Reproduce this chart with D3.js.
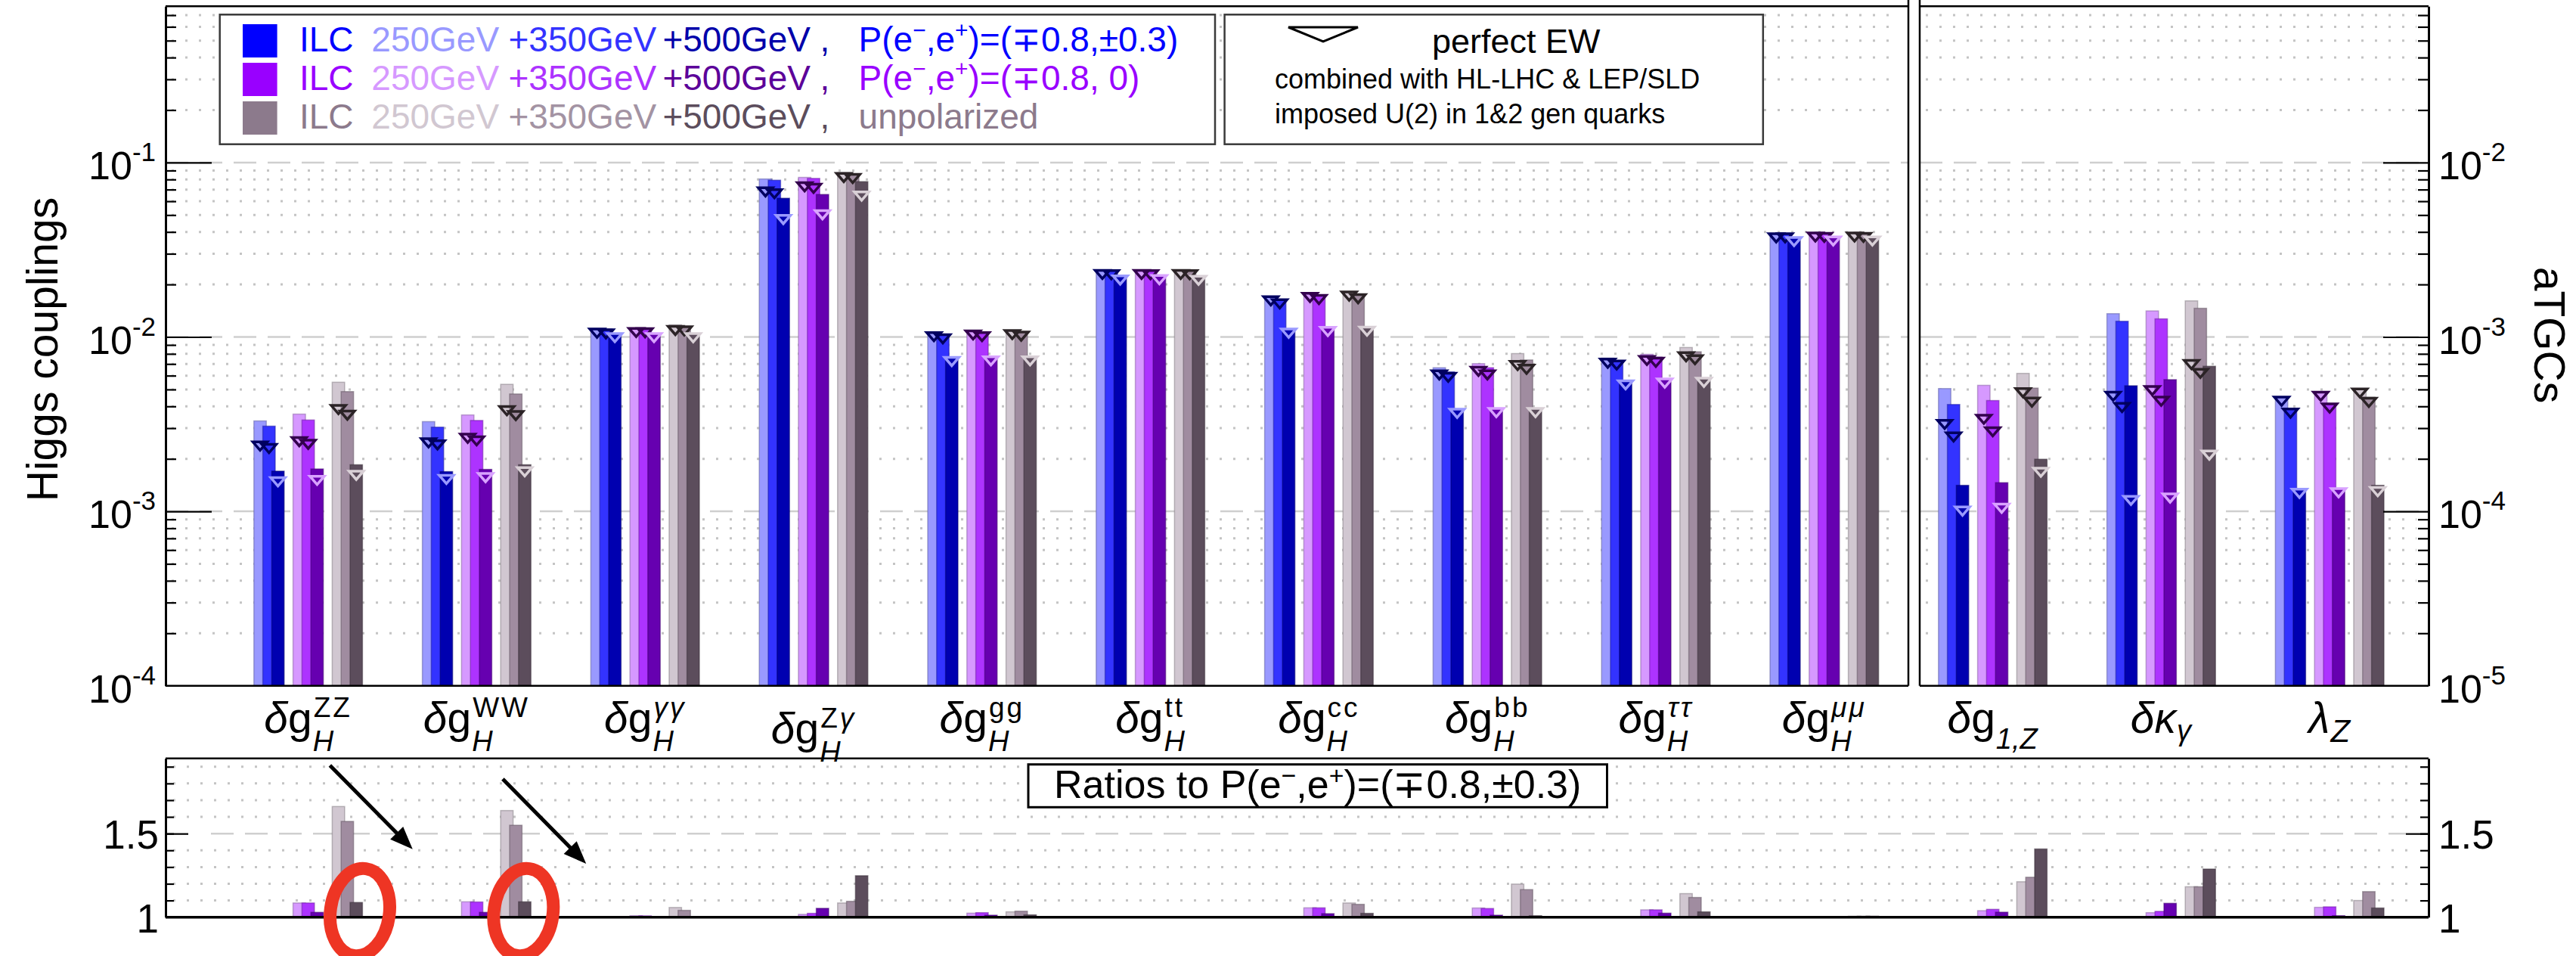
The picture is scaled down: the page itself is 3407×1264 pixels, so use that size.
<!DOCTYPE html>
<html><head><meta charset="utf-8">
<script src="https://cdn.jsdelivr.net/npm/d3@7"></script>
<style>
body{margin:0;background:#fff}
svg{display:block}
text{font-family:"Liberation Sans",Arial,Helvetica,sans-serif}
</style>
</head><body>
<svg id="chart" width="3407" height="1264"></svg>
<script>
// ---------------- DATA ----------------
const categories = ["ZZ","WW","γγ","Zγ","gg","tt","cc","bb","ττ","μμ","g1Z","κγ","λZ"];
const nHiggs = 10; // first 10 on left axis (Higgs couplings), rest on right axis (aTGCs)
const polarizations = ["pol1","pol2","unpol"];
const energies = ["250GeV","+350GeV","+500GeV"];

// bar values (Higgs: left axis, aTGC: right axis)
const pol1_250 = [3.30e-3,3.27e-3,1.116e-2,8.05e-2,1.06e-2,2.41e-2,1.70e-2,6.66e-3,7.56e-3,3.91e-2,5.06e-4,1.36e-3,4.52e-4];
const pol1_350 = [3.08e-3,3.04e-3,1.110e-2,7.92e-2,1.03e-2,2.40e-2,1.64e-2,6.30e-3,7.31e-3,3.91e-2,4.10e-4,1.23e-3,3.86e-4];
const pol1_500 = [1.70e-3,1.69e-3,1.038e-2,6.24e-2,7.64e-3,2.24e-2,1.11e-2,3.85e-3,5.61e-3,3.72e-2,1.41e-4,5.25e-4,1.34e-4];
const pol2_250 = [3.61e-3,3.57e-3,1.120e-2,8.22e-2,1.084e-2,2.41e-2,1.79e-2,7.03e-3,7.95e-3,3.95e-2,5.28e-4,1.41e-3,4.83e-4];
const pol2_350 = [3.34e-3,3.32e-3,1.116e-2,8.11e-2,1.06e-2,2.40e-2,1.73e-2,6.66e-3,7.66e-3,3.93e-2,4.32e-4,1.27e-3,4.13e-4];
const pol2_500 = [1.75e-3,1.74e-3,1.038e-2,6.56e-2,7.70e-3,2.25e-2,1.135e-2,3.89e-3,5.74e-3,3.75e-2,1.46e-4,5.69e-4,1.35e-4];
const unpol_250 = [5.50e-3,5.35e-3,1.173e-2,8.75e-2,1.09e-2,2.41e-2,1.82e-2,8.03e-3,8.70e-3,3.95e-2,6.18e-4,1.61e-3,5.04e-4];
const unpol_350 = [4.86e-3,4.71e-3,1.143e-2,8.61e-2,1.067e-2,2.40e-2,1.76e-2,7.38e-3,8.22e-3,3.93e-2,5.09e-4,1.46e-3,4.51e-4];
const unpol_500 = [1.85e-3,1.85e-3,1.045e-2,7.77e-2,7.70e-3,2.23e-2,1.14e-2,3.89e-3,5.80e-3,3.75e-2,1.99e-4,6.79e-4,1.41e-4];

// perfect EW (triangle markers)
const pol1_250_ew = [2.50e-3,2.61e-3,1.110e-2,7.17e-2,1.06e-2,2.41e-2,1.70e-2,6.40e-3,7.46e-3,3.91e-2,3.33e-4,4.83e-4,4.52e-4];
const pol1_350_ew = [2.42e-3,2.54e-3,1.100e-2,7.00e-2,1.03e-2,2.40e-2,1.635e-2,6.20e-3,7.29e-3,3.91e-2,2.82e-4,4.16e-4,3.86e-4];
const pol1_500_ew = [1.56e-3,1.61e-3,1.047e-2,4.98e-2,7.64e-3,2.24e-2,1.11e-2,3.85e-3,5.61e-3,3.72e-2,1.06e-4,1.22e-4,1.34e-4];
const pol2_250_ew = [2.65e-3,2.77e-3,1.120e-2,7.66e-2,1.084e-2,2.41e-2,1.78e-2,6.71e-3,7.74e-3,3.95e-2,3.56e-4,5.20e-4,4.83e-4];
const pol2_350_ew = [2.56e-3,2.68e-3,1.116e-2,7.51e-2,1.06e-2,2.40e-2,1.73e-2,6.40e-3,7.56e-3,3.93e-2,3.02e-4,4.52e-4,4.13e-4];
const pol2_500_ew = [1.59e-3,1.65e-3,1.047e-2,5.30e-2,7.70e-3,2.25e-2,1.135e-2,3.89e-3,5.74e-3,3.75e-2,1.10e-4,1.26e-4,1.35e-4];
const unpol_250_ew = [4.05e-3,3.99e-3,1.150e-2,8.67e-2,1.09e-2,2.41e-2,1.81e-2,7.24e-3,8.13e-3,3.95e-2,5.06e-4,7.33e-4,5.04e-4];
const unpol_350_ew = [3.76e-3,3.74e-3,1.143e-2,8.55e-2,1.067e-2,2.40e-2,1.75e-2,6.89e-3,7.82e-3,3.93e-2,4.46e-4,6.53e-4,4.45e-4];
const unpol_500_ew = [1.70e-3,1.78e-3,1.045e-2,6.78e-2,7.70e-3,2.23e-2,1.14e-2,3.89e-3,5.80e-3,3.75e-2,1.77e-4,2.22e-4,1.37e-4];

// ratios to P(e-,e+)=(-+0.8,+-0.3)
const ratio_pol2_250 = [1.085,1.092,1.009,1.017,1.024,1.002,1.056,1.055,1.044,1.003,1.039,1.027,1.059];
const ratio_pol2_350 = [1.085,1.091,1.008,1.023,1.027,1.002,1.056,1.052,1.044,1.003,1.047,1.035,1.062];
const ratio_pol2_500 = [1.029,1.029,1.003,1.053,1.012,1.002,1.021,1.012,1.024,1.003,1.030,1.083,1.009];
const ratio_unpol_250 = [1.662,1.638,1.058,1.085,1.032,1.002,1.085,1.198,1.141,1.006,1.212,1.182,1.100];
const ratio_unpol_350 = [1.573,1.550,1.041,1.095,1.036,1.002,1.077,1.165,1.118,1.006,1.239,1.182,1.153];
const ratio_unpol_500 = [1.088,1.092,1.003,1.248,1.014,1.002,1.023,1.009,1.032,1.006,1.408,1.288,1.055];

// tick labels
const leftTickValues = [1e-1,1e-2,1e-3,1e-4];
const leftTickExp = ["-1","-2","-3","-4"];
const rightTickValues = [1e-2,1e-3,1e-4,1e-5];
const rightTickExp = ["-2","-3","-4","-5"];
const ratioTickValues = [1,1.5];
const ratioTickLabels = ["1","1.5"];

// x labels
const labelMain = ["δg","δg","δg","δg","δg","δg","δg","δg","δg","δg","δg","δκ","λ"];
const labelSup  = ["ZZ","WW","γγ","Zγ","gg","tt","cc","bb","ττ","μμ","","",""];
const labelSub  = ["H","H","H","H","H","H","H","H","H","H","1,Z","γ","Z"];

// legend
const legendRows = [
  ["ILC","250GeV","+350GeV","+500GeV",",","P(e|−|,e|+|)=(∓0.8,±0.3)"],
  ["ILC","250GeV","+350GeV","+500GeV",",","P(e|−|,e|+|)=(∓0.8, 0)"],
  ["ILC","250GeV","+350GeV","+500GeV",",","unpolarized"]
];
const legendEW = ["perfect EW","combined with HL-LHC & LEP/SLD","imposed U(2) in 1&2 gen quarks"];

// ---------------- STYLE ----------------
const barColors = {
  pol1:["#9999ff","#3333ff","#0000b0"],
  pol2:["#d699ff","#ad33ff","#6600b0"],
  unpol:["#d1c7d1","#a08ca0","#5c4d5c"]
};
const triColors = {
  pol1:["#000060","#000060","#9a9aff"],
  pol2:["#33004d","#33004d","#d9a3ff"],
  unpol:["#2b2326","#2b2326","#d9d0d6"]
};
const swatchColors = {pol1:"#0000ff",pol2:"#9900ff",unpol:"#8c7a8c"};
const legendTextColors = [
  ["#0000ff","#9999ff","#3333ff","#0000aa","#0000aa","#0000ff"],
  ["#9900ff","#d699ff","#ad33ff","#5c0099","#5c0099","#9900ff"],
  ["#8c7a8c","#d1c7d1","#a393a3","#5c4d5c","#5c4d5c","#8c7a8c"]
];

const series = {
  pol1:{bars:[pol1_250,pol1_350,pol1_500], ew:[pol1_250_ew,pol1_350_ew,pol1_500_ew]},
  pol2:{bars:[pol2_250,pol2_350,pol2_500], ew:[pol2_250_ew,pol2_350_ew,pol2_500_ew], ratio:[ratio_pol2_250,ratio_pol2_350,ratio_pol2_500]},
  unpol:{bars:[unpol_250,unpol_350,unpol_500], ew:[unpol_250_ew,unpol_350_ew,unpol_500_ew], ratio:[ratio_unpol_250,ratio_unpol_350,ratio_unpol_500]}
};

// ---------------- LAYOUT ----------------
const X0=219, XDIV1=2524, XDIV2=2539, X1=3212;
const YT=8.3, YB=906.7, RT=1002.7, RB=1212.7;

const svg = d3.select("#chart");

const x = d3.scaleBand().domain(categories).range([296.2, 3192.6]);
const xc = d3.scaleBand().domain(polarizations).range([-77.7,77.7]).paddingInner(0.228).paddingOuter(0.114);
const xe = d3.scalePoint().domain(energies).range([0,23.6]);
const barW = 16.4;
const yL = d3.scaleLog().domain([1e-4, Math.pow(10,-0.104)]).range([YB,YT]);
const yR = d3.scaleLog().domain([1e-5, Math.pow(10,-1.104)]).range([YB,YT]);
const yQ = d3.scaleLinear().domain([1,1.95]).range([RB,RT]);
const xg = d3.scaleLinear().domain([0,categories.length-1])
  .range([x(categories[0])+x.bandwidth()/2, x(categories[categories.length-1])+x.bandwidth()/2]);

function barX(ci,p,ei){ return x(categories[ci]) + x.bandwidth()/2 + xc(p) + xe(energies[ei]); }
function yUp(ci,v){ return ci < nHiggs ? yL(v) : yR(v); }

// ---------------- GRID ----------------
const grid = svg.append("g");
function minorVals(lo,hi){ const out=[]; for(let d=lo; d<hi; d++){ for(let m=2;m<=9;m++){ out.push(m*Math.pow(10,d)); } } return out; }
const leftMinor = minorVals(-4,0).filter(v=>v<yL.domain()[1]);
const panels = [[X0,XDIV1],[XDIV2,X1]];
panels.forEach(([a,b])=>{
  grid.selectAll(null).data(leftTickValues.slice(0,3)).enter().append("line")
    .attr("x1",a).attr("x2",b).attr("y1",d=>yL(d)).attr("y2",d=>yL(d))
    .attr("stroke","#cfcfcf").attr("stroke-width",2.5).attr("stroke-dasharray","30,15");
  grid.selectAll(null).data(leftMinor).enter().append("line")
    .attr("x1",a+8).attr("x2",b-16).attr("y1",d=>yL(d)).attr("y2",d=>yL(d))
    .attr("stroke","#c4c4c4").attr("stroke-width",3).attr("stroke-dasharray","3,15");
});
const ratioMinor = d3.range(1.1,1.95,0.1).filter(v=>Math.abs(v-1.5)>1e-6);
grid.append("line").attr("x1",X0+60).attr("x2",X1-30).attr("y1",yQ(1.5)).attr("y2",yQ(1.5))
  .attr("stroke","#cfcfcf").attr("stroke-width",2.5).attr("stroke-dasharray","30,15");
grid.selectAll(null).data(ratioMinor).enter().append("line")
  .attr("x1",X0+10).attr("x2",X1-16).attr("y1",d=>yQ(d)).attr("y2",d=>yQ(d))
  .attr("stroke","#c4c4c4").attr("stroke-width",3).attr("stroke-dasharray","3,15");

// ---------------- BARS ----------------
const barTable = [];
const triTable = [];
const ratioTable = [];
categories.forEach((c,ci)=>{
  polarizations.forEach(p=>{
    energies.forEach((e,ei)=>{
      barTable.push({ci,p,ei,v:series[p].bars[ei][ci]});
      triTable.push({ci,p,ei,v:series[p].ew[ei][ci]});
      if(series[p].ratio) ratioTable.push({ci,p,ei,v:series[p].ratio[ei][ci]});
    });
  });
});
const gBars = svg.append("g");
gBars.selectAll("rect").data(barTable).enter().append("rect")
  .attr("x",d=>barX(d.ci,d.p,d.ei))
  .attr("width",barW)
  .attr("y",d=>yUp(d.ci,d.v))
  .attr("height",d=>YB-yUp(d.ci,d.v))
  .attr("fill",d=>barColors[d.p][d.ei])
  .attr("stroke",d=>d3.color(barColors[d.p][d.ei]).darker(1.2))
  .attr("stroke-opacity",0.55).attr("stroke-width",1.5);

const triW=19, triH=11;
svg.append("g").selectAll("path").data(triTable).enter().append("path")
  .attr("d",d=>{ const cx=barX(d.ci,d.p,d.ei)+barW/2, y=yUp(d.ci,d.v);
    return `M${cx-triW/2},${y}L${cx+triW/2},${y}L${cx},${y+triH}Z`; })
  .attr("fill","none").attr("stroke",d=>triColors[d.p][d.ei]).attr("stroke-width",3.5)
  .attr("stroke-linejoin","miter");

// ratio bars
svg.append("g").selectAll("rect").data(ratioTable).enter().append("rect")
  .attr("x",d=>barX(d.ci,d.p,d.ei))
  .attr("width",barW)
  .attr("y",d=>yQ(d.v))
  .attr("height",d=>RB-yQ(d.v))
  .attr("fill",d=>barColors[d.p][d.ei])
  .attr("stroke",d=>d3.color(barColors[d.p][d.ei]).darker(1.2))
  .attr("stroke-opacity",0.55).attr("stroke-width",1.5);

// ---------------- AXES ----------------
const ax = svg.append("g").attr("stroke","#000");
function styleAxis(g,w){ g.selectAll("path").attr("stroke","#000").attr("stroke-width",w); g.selectAll("line").attr("stroke","#000").attr("stroke-width",2.2); g.selectAll("text").remove(); }
// left
ax.append("g").attr("transform",`translate(${X0},0)`)
  .call(d3.axisRight(yL).tickValues(leftTickValues.slice(0,3)).tickSize(61).tickSizeOuter(0).tickFormat(""))
  .call(g=>styleAxis(g,3));
ax.append("g").attr("transform",`translate(${X0},0)`)
  .call(d3.axisRight(yL).tickValues(leftMinor).tickSize(14).tickFormat(""))
  .call(g=>{styleAxis(g,0); g.select(".domain").remove();});
// right
ax.append("g").attr("transform",`translate(${X1},0)`)
  .call(d3.axisLeft(yR).tickValues(rightTickValues.slice(0,3)).tickSize(60).tickSizeOuter(0).tickFormat(""))
  .call(g=>styleAxis(g,3));
ax.append("g").attr("transform",`translate(${X1},0)`)
  .call(d3.axisLeft(yL).tickValues(leftMinor).tickSize(14).tickFormat(""))
  .call(g=>{styleAxis(g,0); g.select(".domain").remove();});
// ratio axes
const ratioMinorAll = d3.range(1.1,1.95,0.1);
ax.append("g").attr("transform",`translate(${X0},0)`)
  .call(d3.axisRight(yQ).tickValues([1.5]).tickSize(30).tickSizeOuter(0).tickFormat(""))
  .call(g=>styleAxis(g,3));
ax.append("g").attr("transform",`translate(${X0},0)`)
  .call(d3.axisRight(yQ).tickValues(ratioMinorAll).tickSize(11).tickFormat(""))
  .call(g=>{styleAxis(g,0); g.select(".domain").remove();});
ax.append("g").attr("transform",`translate(${X1},0)`)
  .call(d3.axisLeft(yQ).tickValues([1.5]).tickSize(30).tickSizeOuter(0).tickFormat(""))
  .call(g=>styleAxis(g,3));
ax.append("g").attr("transform",`translate(${X1},0)`)
  .call(d3.axisLeft(yQ).tickValues(ratioMinorAll).tickSize(11).tickFormat(""))
  .call(g=>{styleAxis(g,0); g.select(".domain").remove();});

// frame lines
const frame = svg.append("g").attr("stroke","#000").attr("stroke-width",2.5);
frame.append("line").attr("x1",X0).attr("x2",XDIV1).attr("y1",YT).attr("y2",YT);
frame.append("line").attr("x1",XDIV2).attr("x2",X1).attr("y1",YT).attr("y2",YT);
frame.append("line").attr("x1",X0).attr("x2",XDIV1).attr("y1",YB).attr("y2",YB);
frame.append("line").attr("x1",XDIV2).attr("x2",X1).attr("y1",YB).attr("y2",YB);
frame.append("line").attr("x1",XDIV1).attr("x2",XDIV1).attr("y1",0).attr("y2",YB);
frame.append("line").attr("x1",XDIV2).attr("x2",XDIV2).attr("y1",0).attr("y2",YB);
frame.append("line").attr("x1",X0).attr("x2",X1).attr("y1",RT).attr("y2",RT);
frame.append("line").attr("x1",X0).attr("x2",X1).attr("y1",RB).attr("y2",RB).attr("stroke-width",3.5);

// tick labels
const tl = svg.append("g").attr("fill","#000");
leftTickValues.forEach((v,i)=>{
  const t = tl.append("text").attr("x",206).attr("y",yL(v)+22).attr("text-anchor","end").attr("font-size",52);
  t.append("tspan").text("10");
  t.append("tspan").attr("dy",-24).attr("font-size",35).text(leftTickExp[i]);
});
rightTickValues.forEach((v,i)=>{
  const t = tl.append("text").attr("x",3225).attr("y",yR(v)+22).attr("font-size",52);
  t.append("tspan").text("10");
  t.append("tspan").attr("dy",-24).attr("font-size",35).text(rightTickExp[i]);
});
ratioTickValues.forEach((v,i)=>{
  tl.append("text").attr("x",210).attr("y",yQ(v)+20).attr("text-anchor","end").attr("font-size",53).text(ratioTickLabels[i]);
  tl.append("text").attr("x",3225).attr("y",yQ(v)+20).attr("font-size",53).text(ratioTickLabels[i]);
});

// axis titles
svg.append("text").attr("transform","translate(76,462) rotate(-90)").attr("text-anchor","middle")
  .attr("font-size",57).text("Higgs couplings");
svg.append("text").attr("transform","translate(3352,443) rotate(90)").attr("text-anchor","middle")
  .attr("font-size",57).text("aTGCs");

// x category labels
const greek = /[δγτμκλ]/;
const labelStyle = {
  mainBase:969, mainSize:57, supSize:37, supDy:-21, supSpacing:3,
  subDy:[24,24,24,24,24,24,24,24,24,24,21,10,12],
  subSizes:[38,38,38,38,38,38,38,38,38,38,38,38,42],
  extraDy:[0,0,0,14,0,0,0,0,0,0,0,0,0]
};
function addChars(textSel, str, allItalic){
  [...str].forEach(ch=>{
    const ts = textSel.append("tspan").text(ch);
    if(allItalic || greek.test(ch)) ts.attr("font-style","italic");
  });
}
categories.forEach((c,ci)=>{
  const cx = x(c)+x.bandwidth()/2;
  const g = svg.append("g");
  const m = g.append("text").attr("x",0).attr("y",0).attr("font-size",labelStyle.mainSize);
  addChars(m, labelMain[ci], false);
  const w = m.node().getComputedTextLength();
  let wSup=0, wSub=0;
  if(labelSup[ci]){
    const s = g.append("text").attr("x",w+2).attr("y",labelStyle.supDy).attr("font-size",labelStyle.supSize)
      .attr("letter-spacing",labelStyle.supSpacing);
    addChars(s, labelSup[ci], false);
    wSup = s.node().getComputedTextLength();
  }
  if(labelSub[ci]){
    const s = g.append("text").attr("x",w+1).attr("y",labelStyle.subDy[ci]).attr("font-size",labelStyle.subSizes[ci]);
    addChars(s, labelSub[ci], true);
    wSub = s.node().getComputedTextLength();
  }
  const total = w + 2 + Math.max(wSup,wSub);
  g.attr("transform",`translate(${cx-total/2},${labelStyle.mainBase+labelStyle.extraDy[ci]})`);
});

// ---------------- LEGENDS ----------------
const lg = svg.append("g");
lg.append("rect").attr("x",290.7).attr("y",19.3).attr("width",1316.3).attr("height",171.4)
  .attr("fill","#fff").attr("stroke","#3a3a3a").attr("stroke-width",2.5);
const segX = [396,491.3,672.5,876.4,1084.6,1135.6];
const rowBase = [68,119,170];
function richP(t, str, size){
  // parts separated by "|" ; odd parts are superscripts
  str.split("|").forEach((s,k)=>{
    const ts = t.append("tspan").text(s);
    if(k%2===1){ ts.attr("dy",-18).attr("font-size",size*0.65); }
    else if(k>0){ ts.attr("dy",18); }
  });
}
polarizations.forEach((p,ri)=>{
  lg.append("rect").attr("x",321).attr("y",rowBase[ri]-36).attr("width",45.6).attr("height",44).attr("fill",swatchColors[p]);
  legendRows[ri].forEach((s,k)=>{
    const t = lg.append("text").attr("x",segX[k]).attr("y",rowBase[ri]).attr("font-size",46).attr("fill",legendTextColors[ri][k]);
    if(s.includes("|")) richP(t,s,46); else t.text(s);
  });
});
lg.append("rect").attr("x",1619.6).attr("y",19.3).attr("width",712.2).attr("height",171.4)
  .attr("fill","#fff").attr("stroke","#3a3a3a").attr("stroke-width",2.5);
lg.append("path").attr("d","M1704,36L1796,36L1750,55Z").attr("fill","none").attr("stroke","#000").attr("stroke-width",3);
lg.append("text").attr("x",1894).attr("y",70).attr("font-size",45).text(legendEW[0]);
lg.append("text").attr("x",1686).attr("y",117).attr("font-size",36).text(legendEW[1]);
lg.append("text").attr("x",1686).attr("y",163).attr("font-size",36).text(legendEW[2]);

// ratio title box
svg.append("rect").attr("x",1360).attr("y",1010.7).attr("width",765.5).attr("height",56.6)
  .attr("fill","#fff").attr("stroke","#000").attr("stroke-width",3);
const rt = svg.append("text").attr("x",1742.7).attr("y",1055).attr("text-anchor","middle").attr("font-size",52);
richP(rt,"Ratios to P(e|−|,e|+|)=(∓0.8,±0.3)",52);

// ---------------- ANNOTATIONS ----------------
const arrows = [{x0:0.129,y0:1.908,x1:0.62,y1:1.407},{x0:1.155,y0:1.826,x1:1.65,y1:1.32}];
const ellipses = [{cx:0.307,cy:1.03},{cx:1.278,cy:1.03}];
const ann = svg.append("g");
ellipses.forEach(e=>{
  ann.append("ellipse").attr("cx",0).attr("cy",0).attr("rx",39).attr("ry",58)
    .attr("transform",`translate(${xg(e.cx)},${yQ(e.cy)}) rotate(8)`)
    .attr("fill","none").attr("stroke","#ee3524").attr("stroke-width",17);
});
arrows.forEach(a=>{
  const xa=xg(a.x0), ya=yQ(a.y0), xb=xg(a.x1), yb=yQ(a.y1);
  const dx=xb-xa, dy=yb-ya, L=Math.hypot(dx,dy), ux=dx/L, uy=dy/L;
  const hl=30, hw=12;
  const bx=xb-ux*hl, by=yb-uy*hl;
  ann.append("line").attr("x1",xa).attr("y1",ya).attr("x2",bx+ux*2).attr("y2",by+uy*2)
    .attr("stroke","#000").attr("stroke-width",5);
  ann.append("path").attr("d",`M${xb},${yb}L${bx-uy*hw},${by+ux*hw}L${bx+uy*hw},${by-ux*hw}Z`).attr("fill","#000");
});
</script>
</body></html>
